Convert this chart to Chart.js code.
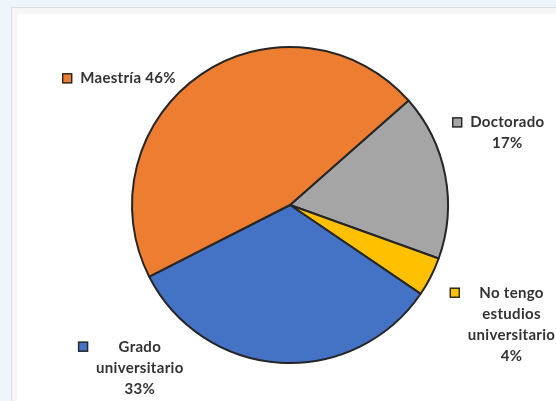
<!DOCTYPE html>
<html lang="es">
<head>
    <meta charset="UTF-8">
    <script src="https://cdn.jsdelivr.net/npm/chart.js@4.4.0/dist/chart.umd.min.js"></script>
    <title>Nivel de estudios</title>
    <style>
        body { margin: 0; width: 556px; height: 401px; overflow: hidden; background: #eef6fb; position: relative; }
        #panel { position: absolute; left: 11px; top: 7px; width: 560px; height: 410px; background: #fff;
                 border: 1px solid #dedede; box-shadow: inset 5px 6px 0 #f6f6f6; }
        #chartBox { position: absolute; left: 0; top: 0; width: 556px; height: 401px; }
    </style>
</head>

<body>
    <div id="panel"></div>
    <div id="chartBox"><canvas id="myChart" width="556" height="401"></canvas></div>

    <script>
        var categorias = ['Doctorado', 'No tengo estudios universitario', 'Grado universitario', 'Maestría'];
        var porcentajes = [17, 4, 33, 46];
        var colores = ['#a5a5a5', '#ffc000', '#4472c4', '#ed7d31'];
        // como se corta el nombre en la etiqueta
        var nombresEtiqueta = [['Doctorado'], ['No tengo', 'estudios', 'universitario'], ['Grado', 'universitario'], ['Maestría']];
        var pctMismaLinea = [false, false, false, true];
        // desplazamiento de la etiqueta desde el borde exterior del sector (px)
        var despEtiqueta = [[7, -58], [19, 11], [-202, -21], [-139, -1]];

        var etiquetasPlugin = {
            id: 'etiquetas',
            afterDatasetsDraw: function (chart) {
                var ctx = chart.ctx;
                var arcs = chart.getDatasetMeta(0).data;
                ctx.save();
                ctx.font = 'bold 15px Lato';
                ctx.letterSpacing = '0.3px';
                ctx.textBaseline = 'middle';
                ctx.textAlign = 'center';
                arcs.forEach(function (arc, i) {
                    var p = arc.getProps(['x', 'y', 'startAngle', 'endAngle', 'outerRadius'], true);
                    var mid = (p.startAngle + p.endAngle) / 2;
                    var ox = p.x + Math.cos(mid) * p.outerRadius + despEtiqueta[i][0];
                    var oy = p.y + Math.sin(mid) * p.outerRadius + despEtiqueta[i][1];
                    var lineas = nombresEtiqueta[i].slice();
                    var pct = porcentajes[i] + '%';
                    if (pctMismaLinea[i]) lineas[lineas.length - 1] += ' ' + pct;
                    else lineas.push(pct);
                    var w = 0;
                    lineas.forEach(function (l) { w = Math.max(w, ctx.measureText(l).width); });
                    // cuadrito de leyenda
                    ctx.fillStyle = colores[i];
                    ctx.fillRect(ox, oy, 10, 10);
                    ctx.strokeStyle = '#262626';
                    ctx.lineWidth = 1.4;
                    ctx.strokeRect(ox + 0.5, oy + 0.5, 9, 9);
                    var tx = ox + 18 + w / 2;
                    ctx.fillStyle = '#333333';
                    lineas.forEach(function (l, k) {
                        ctx.fillText(l, tx, oy + 5 + k * 21);
                    });
                });
                ctx.restore();
            }
        };

        var ctx = document.getElementById('myChart').getContext('2d');
        var chart = new Chart(ctx, {
            type: 'pie',
            data: {
                labels: categorias,
                datasets: [{
                    data: porcentajes,
                    backgroundColor: colores,
                    borderColor: '#262626',
                    borderWidth: 2
                }]
            },
            options: {
                responsive: false,
                animation: false,
                rotation: 48.6,
                layout: { padding: { left: 131, right: 107, top: 46, bottom: 37 } },
                plugins: {
                    legend: { display: false },
                    tooltip: { enabled: false }
                }
            },
            plugins: [etiquetasPlugin]
        });
    </script>
</body>

</html>
